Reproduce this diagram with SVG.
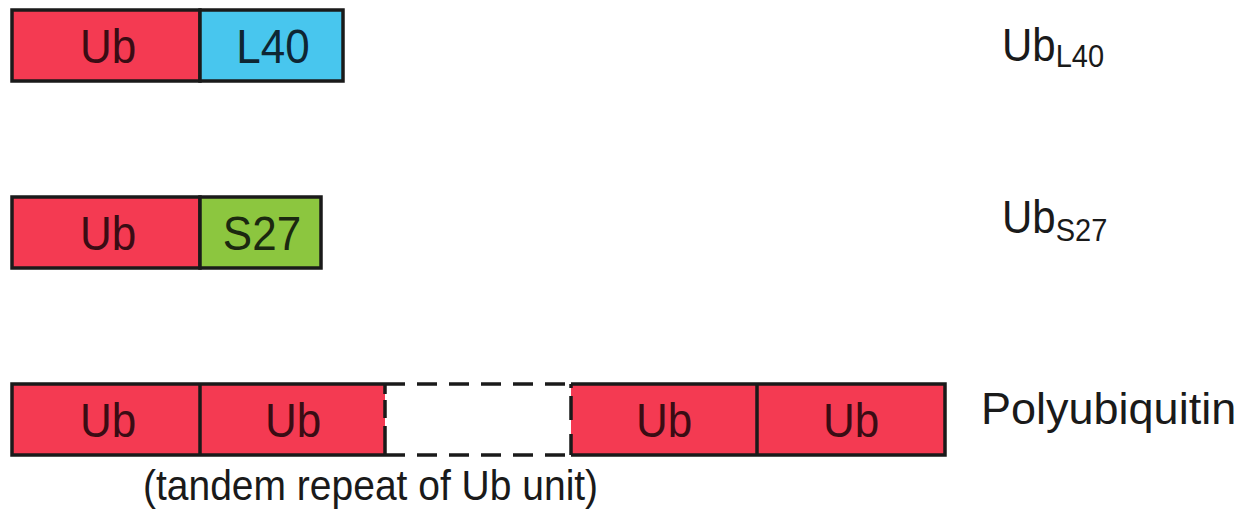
<svg xmlns="http://www.w3.org/2000/svg" width="1245" height="512" viewBox="0 0 1245 512">
<style>
.box{stroke:#1a1a1a;stroke-width:3.5}
.ln{fill:none;stroke:#1a1a1a;stroke-width:3.5}
.ub{fill:#f43a52}
.l40{fill:#48c6ee}
.s27{fill:#8cc63f}
.dash{fill:none;stroke:#1a1a1a;stroke-width:3.5;stroke-dasharray:20 12}
.bt{font-family:"Liberation Sans",Arial,sans-serif;font-size:44px;text-anchor:middle}
.tr{fill:#3a0c14}
.tb{fill:#0e2633}
.tg{fill:#1b2810}
.lab{font-family:"Liberation Sans",Arial,sans-serif;font-size:42px;fill:#1a1a1a}
.sub{font-size:29px}
</style>
<rect width="1245" height="512" fill="#ffffff"/>
<g id="row-ubl40">
  <rect class="box ub" x="12" y="10" width="188" height="71"/>
  <rect class="box l40" x="200" y="10" width="143" height="71"/>
  <text class="bt tr" transform="translate(108,63) scale(1,1.1)">Ub</text>
  <text class="bt tb" transform="translate(273,63) scale(1,1.1)">L40</text>
</g>
<g id="row-ubs27">
  <rect class="box ub" x="12" y="197" width="188" height="71"/>
  <rect class="box s27" x="200" y="197" width="121" height="71"/>
  <text class="bt tr" transform="translate(108,250) scale(1,1.1)">Ub</text>
  <text class="bt tg" transform="translate(262,250) scale(1,1.1)">S27</text>
</g>
<g id="row-poly">
  <rect class="ub" x="12" y="384" width="373" height="71"/>
  <rect class="ub" x="571" y="384" width="374" height="71"/>
  <path class="ln" d="M385,384 H12 V455 H385 M200,384 V455"/>
  <path class="ln" d="M571,384 H945 V455 H571 M757,384 V455"/>
  <path class="dash" d="M385,384 H571"/>
  <path class="dash" d="M385,455 H571"/>
  <path class="dash" d="M385,384 V455" style="stroke-dasharray:10 6 18 8 30"/>
  <path class="dash" d="M571,384 V455" style="stroke-dasharray:4 8 24 14 30"/>
  <text class="bt tr" transform="translate(108,437) scale(1,1.1)">Ub</text>
  <text class="bt tr" transform="translate(293,437) scale(1,1.1)">Ub</text>
  <text class="bt tr" transform="translate(664,437) scale(1,1.1)">Ub</text>
  <text class="bt tr" transform="translate(851,437) scale(1,1.1)">Ub</text>
</g>
<g id="labels">
  <text class="lab" transform="translate(1002,61) scale(1,1.08)">Ub<tspan class="sub" dy="6">L40</tspan></text>
  <text class="lab" transform="translate(1002,233) scale(1,1.08)">Ub<tspan class="sub" dy="7">S27</tspan></text>
  <text class="lab" x="981" y="424" style="font-size:45px">Polyubiquitin</text>
  <text class="lab" transform="translate(143,500) scale(1,1.1)" style="font-size:39px">(tandem repeat of Ub unit)</text>
</g>
</svg>
